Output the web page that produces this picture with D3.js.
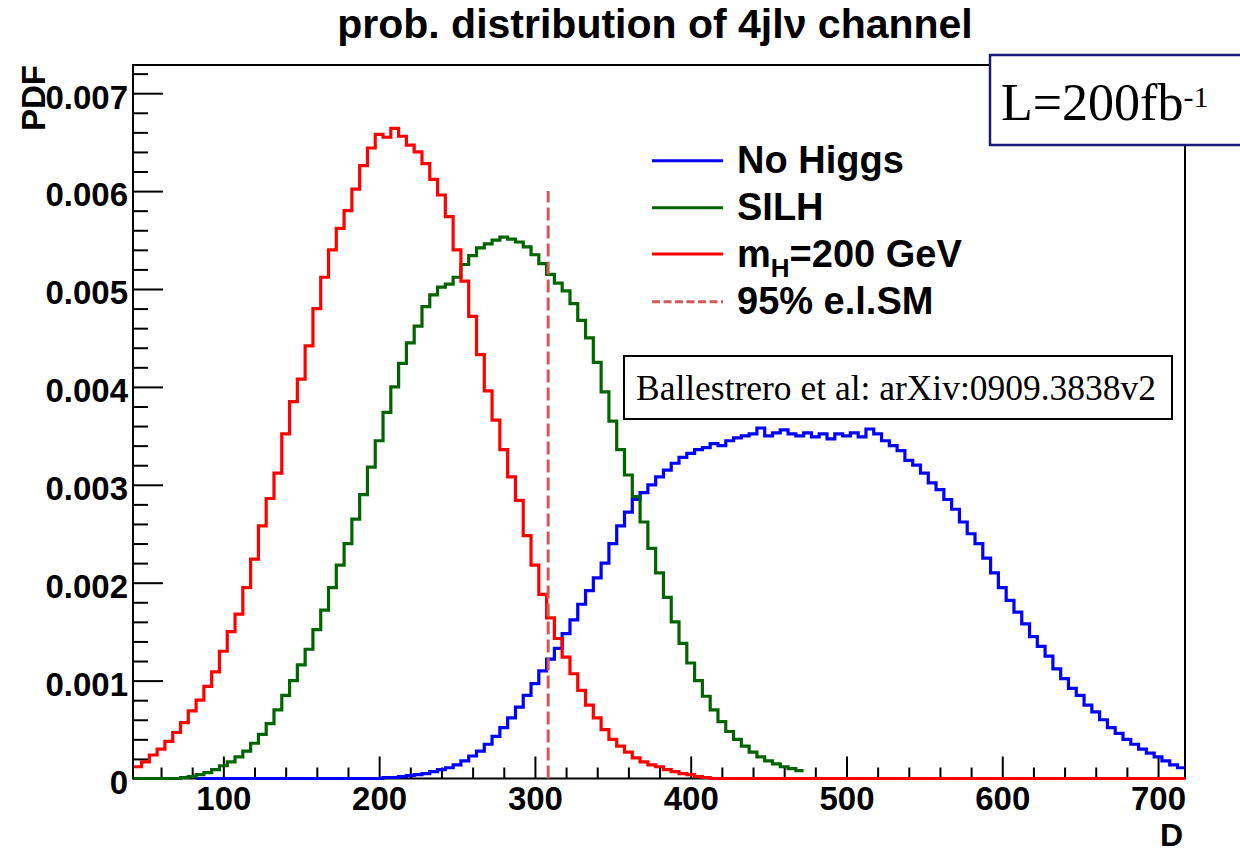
<!DOCTYPE html>
<html><head><meta charset="utf-8">
<script src="https://cdn.jsdelivr.net/npm/d3@7"></script>
<style>body{margin:0;background:#fff}svg{display:block}</style>
</head><body>
<svg id="c" width="1240" height="852"></svg>
<script>
// ---------------- data (PDF values in units of 1e-3) ----------------
const binWidth = 5;            // D units per histogram bin
const xDomain = [42, 717.3];
const yDomain = [0, 7.288];    // x 1e-3

const redStart = 42.5;         // m_H = 200 GeV
const redValues = [0.12,0.17,0.24,0.30,0.38,0.47,0.57,0.69,0.80,0.94,1.09,1.30,1.50,1.68,1.95,2.24,2.58,2.86,3.12,3.52,
  3.85,4.08,4.42,4.80,5.12,5.40,5.62,5.80,6.02,6.26,6.44,6.58,6.55,6.64,6.56,6.47,6.40,6.28,6.12,5.96,
  5.74,5.40,5.08,4.72,4.33,3.96,3.66,3.36,3.08,2.84,2.48,2.18,1.88,1.64,1.43,1.24,1.07,0.90,0.75,0.62,
  0.50,0.40,0.33,0.27,0.21,0.17,0.14,0.12,0.09,0.07,0.05,0.04,0.02,0.01,
  0,0,0,0,0,0,0,0,0,0, 0,0,0,0,0,0,0,0,0,0, 0,0,0,0,0,0,0,0,0,0, 0,0,0,0,0,0,0,0,0,0,
  0,0,0,0,0,0,0,0,0,0, 0,0,0,0,0,0,0,0,0,0, 0];

const greenStart = 42.5;       // SILH
const greenValues = [0,0,0,0,0,0,0.01,0.02,0.04,0.06,0.09,0.13,0.17,0.22,0.28,0.36,0.45,0.56,0.70,0.85,
  1.00,1.16,1.32,1.52,1.72,1.95,2.18,2.40,2.65,2.90,3.18,3.45,3.74,4.00,4.24,4.45,4.62,4.82,4.94,5.02,
  5.05,5.12,5.25,5.34,5.42,5.46,5.50,5.53,5.51,5.48,5.43,5.35,5.26,5.15,5.06,4.98,4.85,4.68,4.50,4.25,
  3.95,3.65,3.36,3.10,2.88,2.62,2.35,2.10,1.85,1.60,1.38,1.18,1.00,0.84,0.70,0.58,0.48,0.40,0.33,0.27,
  0.22,0.18,0.15,0.12,0.10,0.08];

const blueStart = 82.5;        // No Higgs
const blueValues = [0,0,0,0,0,0,0,0,0,0,0,0,0,0,0,0,0,0,0,0,0,0,0,0,
  0.01,0.01,0.02,0.03,0.04,0.05,0.07,0.09,0.11,0.14,0.18,0.23,0.28,0.35,0.43,0.52,0.62,0.73,0.85,0.97,
  1.10,1.22,1.33,1.48,1.62,1.78,1.92,2.05,2.20,2.40,2.58,2.72,2.85,2.92,3.00,3.08,3.15,3.22,3.28,3.32,
  3.36,3.38,3.42,3.40,3.45,3.48,3.50,3.52,3.58,3.50,3.53,3.56,3.52,3.50,3.53,3.49,3.52,3.47,3.52,3.50,
  3.53,3.49,3.57,3.52,3.45,3.40,3.35,3.25,3.20,3.12,3.02,2.95,2.85,2.75,2.62,2.50,2.40,2.25,2.10,1.95,
  1.82,1.70,1.58,1.45,1.35,1.25,1.12,1.02,0.92,0.85,0.75,0.68,0.60,0.52,0.46,0.40,0.35,0.30,0.26,0.22,
  0.18,0.14,0.11];

const cutD = 308.5;            // 95% e.l.SM line
const cutTop = 6.0;

const xMajorTicks = [100,200,300,400,500,600,700];
const xMinorTicks = [60,80,120,140,160,180,220,240,260,280,320,340,360,380,420,440,460,480,520,540,560,580,620,640,660,680];
const yMajorTicks = [0,1,2,3,4,5,6,7];
const yTickLabels = ["0","0.001","0.002","0.003","0.004","0.005","0.006","0.007"];
const yMinorTicks = [0.2,0.4,0.6,0.8,1.2,1.4,1.6,1.8,2.2,2.4,2.6,2.8,3.2,3.4,3.6,3.8,4.2,4.4,4.6,4.8,5.2,5.4,5.6,5.8,6.2,6.4,6.6,6.8,7.2];

const legendLabels = ["No Higgs","SILH","m_H=200 GeV","95% e.l.SM"];
const titleText = "prob. distribution of 4jl\u03BD channel";

// ---------------- drawing ----------------
const svg = d3.select("#c");
const L = 133, R = 1185, T = 65, B = 778.5;
const x = d3.scaleLinear().domain(xDomain).range([L, R]);
const y = d3.scaleLinear().domain(yDomain).range([B, T]);
const sans = "'Liberation Sans', Arial, Helvetica, sans-serif";
const serif = "'Liberation Serif', 'Times New Roman', serif";

svg.append("rect").attr("width",1240).attr("height",852).attr("fill","#fff");

svg.append("defs").append("clipPath").attr("id","clip")
  .append("rect").attr("x",L).attr("y",T-10).attr("width",R-L).attr("height",B-T+12);

// frame (drawn first, histograms lie over it)
svg.append("rect").attr("x",L).attr("y",T).attr("width",R-L).attr("height",B-T)
  .attr("fill","none").attr("stroke","#000").attr("stroke-width",2);

// axes ticks
const gx = svg.append("g").attr("transform",`translate(0,${B})`);
gx.call(d3.axisBottom(x).tickValues(xMajorTicks).tickSize(-22).tickPadding(8).tickFormat(d3.format("d")));
const gxm = svg.append("g").attr("transform",`translate(0,${B})`);
gxm.call(d3.axisBottom(x).tickValues(xMinorTicks).tickSize(-11).tickFormat(""));
const gy = svg.append("g").attr("transform",`translate(${L},0)`);
gy.call(d3.axisLeft(y).tickValues(yMajorTicks).tickSize(-30).tickPadding(5).tickFormat((d,i)=>yTickLabels[i]));
const gym = svg.append("g").attr("transform",`translate(${L},0)`);
gym.call(d3.axisLeft(y).tickValues(yMinorTicks).tickSize(-15).tickFormat(""));
[gx,gxm,gy,gym].forEach(g=>{
  g.select(".domain").remove();
  g.selectAll(".tick line").attr("stroke","#000").attr("stroke-width",2);
  g.selectAll("text").attr("font-family",sans).attr("font-weight","bold").attr("font-size",33).attr("fill","#000");
});
gx.selectAll("text").attr("dy","0.71em");
gy.selectAll("text").attr("dy","0.45em");

// histograms
function histPoints(start, vals){
  const pts = [];
  vals.forEach((v,i)=>{ const lo = start + i*binWidth; pts.push([lo,v]); pts.push([lo+binWidth,v]); });
  return pts;
}
const line = d3.line().x(d=>x(d[0])).y(d=>y(d[1]));
const plot = svg.append("g").attr("clip-path","url(#clip)");
const series = [
  {start: blueStart, vals: blueValues, color:"#0000ff"},
  {start: greenStart, vals: greenValues, color:"#006400"},
  {start: redStart, vals: redValues, color:"#ff0000"}
];
series.forEach(s=>{
  plot.append("path").attr("d", line(histPoints(s.start, s.vals)))
    .attr("fill","none").attr("stroke",s.color).attr("stroke-width",3.2).attr("stroke-linejoin","miter");
});
plot.append("line").attr("x1",x(cutD)).attr("x2",x(cutD)).attr("y1",y(0)).attr("y2",y(cutTop))
  .attr("stroke","#d05a5a").attr("stroke-width",3).attr("stroke-dasharray","13,5");

// title
svg.append("text").attr("x",655).attr("y",38).attr("text-anchor","middle")
  .attr("font-family",sans).attr("font-weight","bold").attr("font-size",41).text(titleText);

// axis titles
svg.append("text").attr("transform","translate(45,65) rotate(-90)").attr("text-anchor","end")
  .attr("font-family",sans).attr("font-weight","bold").attr("font-size",33).text("PDF");
svg.append("text").attr("x",1183).attr("y",846).attr("text-anchor","end")
  .attr("font-family",sans).attr("font-weight","bold").attr("font-size",32).text("D");

// legend
const legColors = ["#0000ff","#006400","#ff0000","#d05a5a"];
const legY = [160.7, 207.7, 254, 301.7];
legendLabels.forEach((lab,i)=>{
  svg.append("line").attr("x1",652).attr("x2",723).attr("y1",legY[i]).attr("y2",legY[i])
    .attr("stroke",legColors[i]).attr("stroke-width",3).attr("stroke-dasharray", i===3 ? "8,3.5" : null);
  const t = svg.append("text").attr("x",737).attr("y",legY[i]+12.5)
    .attr("font-family",sans).attr("font-weight","bold").attr("font-size",38).attr("fill","#000");
  if (lab.indexOf("_H") >= 0) {
    const parts = lab.split("_H");
    t.append("tspan").text(parts[0]);
    t.append("tspan").attr("font-size",26).attr("dy",10).text("H");
    t.append("tspan").attr("dy",-10).text(parts[1]);
  } else t.text(lab);
});

// reference box
svg.append("rect").attr("x",624).attr("y",356).attr("width",548).attr("height",63)
  .attr("fill","#fff").attr("stroke","#000").attr("stroke-width",2);
svg.append("text").attr("x",636).attr("y",399.5).attr("font-family",serif).attr("font-size",35)
  .attr("textLength",520).attr("lengthAdjust","spacingAndGlyphs").text("Ballestrero et al: arXiv:0909.3838v2");

// luminosity box
svg.append("rect").attr("x",990).attr("y",55).attr("width",270).attr("height",90)
  .attr("fill","#fff").attr("stroke","#1c1c78").attr("stroke-width",2.5);
const lt = svg.append("text").attr("x",1001).attr("y",120).attr("font-family",serif).attr("font-size",52).attr("fill","#000");
lt.append("tspan").text("L=200fb");
lt.append("tspan").attr("font-size",30).attr("dy",-13).text("-1");
</script>
</body></html>
